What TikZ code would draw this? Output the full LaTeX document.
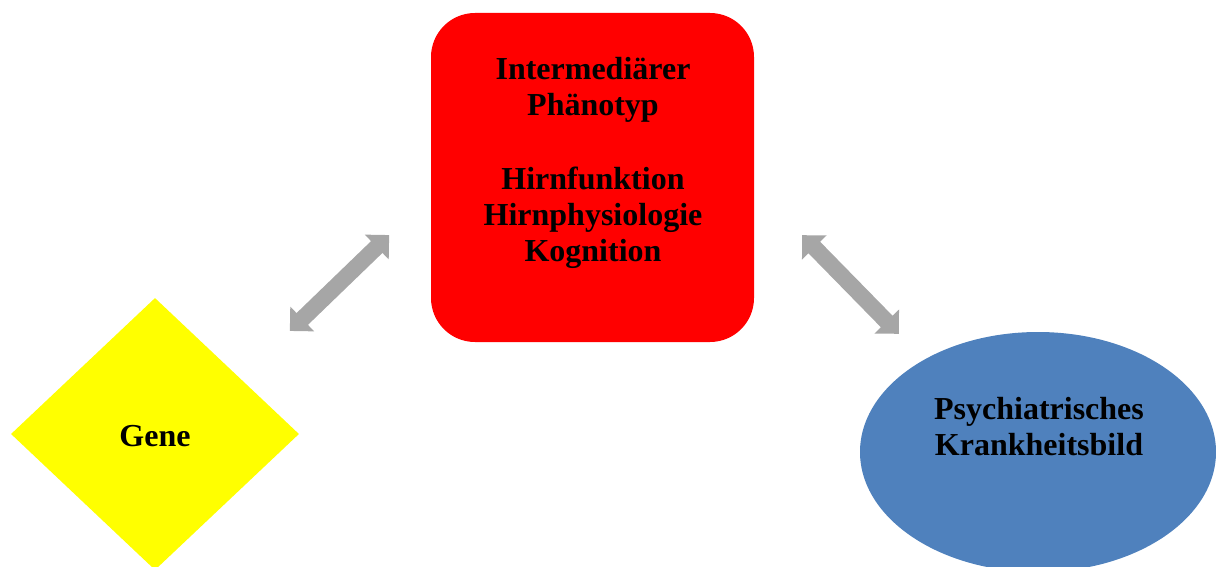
\documentclass[tikz,border=0pt]{standalone}
\usepackage{fontspec}
\setmainfont{Liberation Serif}
\usetikzlibrary{shapes.geometric,shapes.arrows}
\definecolor{boxred}{HTML}{FF0000}
\definecolor{geneyellow}{HTML}{FFFF00}
\definecolor{ellblue}{HTML}{4F81BD}
\definecolor{arrowgray}{HTML}{A6A6A6}
\tikzset{
  lbl/.style={font=\fontsize{32}{36}\selectfont\bfseries, align=center, text=black, inner sep=0pt},
  bigarrow/.style={double arrow, fill=arrowgray, draw=none, minimum height=138pt,
     double arrow head extend=9pt, double arrow tip angle=90, inner xsep=0pt, inner ysep=8pt}
}
\begin{document}
\begin{tikzpicture}[x=1pt,y=-1pt]
\useasboundingbox (0,0) rectangle (1216,567);
\clip (0,0) rectangle (1216,567);
\node[draw=none, fill=boxred, rounded corners=44pt, minimum width=323pt, minimum height=329pt, inner sep=0pt] (phen) at (592.5,177.5) {};
\node[lbl] (phentext) at (593,162.5) {Intermediärer\\Phänotyp\\[38pt]Hirnfunktion\\Hirnphysiologie\\Kognition};
\node[diamond, fill=geneyellow, draw=none, minimum width=288pt, minimum height=272pt, inner sep=0pt] (gene) at (155,434) {};
\node[lbl] (genetext) at (155,436) {Gene};
\node[ellipse, fill=ellblue, draw=none, minimum width=356pt, minimum height=240pt, inner sep=0pt] (psy) at (1038,452) {};
\node[lbl] (psytext) at (1039,427) {Psychiatrisches\\Krankheitsbild};
\node[bigarrow, rotate=44] (a1) at (339.5,283) {};
\node[bigarrow, rotate=-45.6] (a2) at (850.5,284.5) {};
\end{tikzpicture}
\end{document}
